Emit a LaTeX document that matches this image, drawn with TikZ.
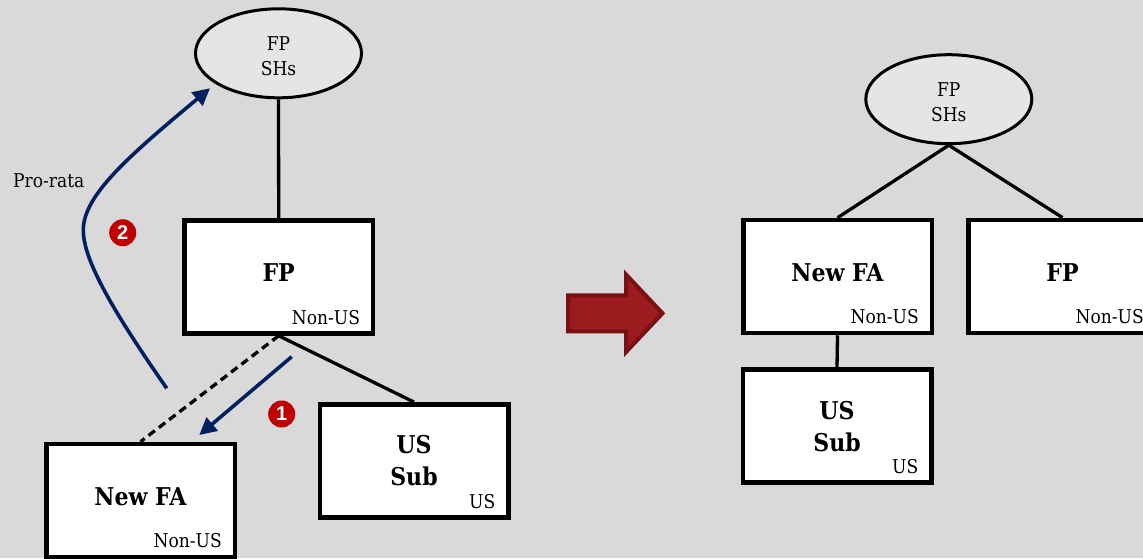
\documentclass[tikz,border=0pt]{standalone}
\usepackage{fontspec}
\setmainfont{DejaVu Serif Condensed}
\newfontfamily\badgefont{Liberation Sans}
\usetikzlibrary{positioning}
\usetikzlibrary{arrows.meta}
\usetikzlibrary{shapes.geometric}
\definecolor{slidegray}{HTML}{D9D9D9}
\definecolor{ovalgray}{HTML}{E5E5E5}
\definecolor{flownavy}{HTML}{002060}
\definecolor{badgered}{HTML}{C00000}
\definecolor{shiftred}{HTML}{9B1B1F}
\definecolor{shiftrim}{HTML}{7A1014}

\begin{document}
\begin{tikzpicture}[x=1pt, y=-1pt,
entitybox/.style={rectangle, draw=black, fill=white, line width=4.5pt, minimum width=188.5pt, minimum height=113pt, align=center, font=\fontsize{24.5}{32}\selectfont\bfseries},
onelinebox/.style={entitybox, text depth=8pt},
holderoval/.style={ellipse, draw=black, fill=ovalgray, line width=3pt, minimum width=166pt, minimum height=89pt, align=center, text height=45pt, font=\fontsize{19}{25}\selectfont},
residence/.style={anchor=base east, xshift=-15pt, yshift=11.5pt, inner sep=0pt, font=\fontsize{19}{22}\selectfont},
stepbadge/.style={circle, fill=badgered, text=white, minimum size=27pt, inner sep=0pt, font=\badgefont\bfseries\fontsize{20}{20}\selectfont},
ownline/.style={line width=3.3pt},
flowline/.style={draw=flownavy, line width=3.6pt, -{Triangle[length=17pt,width=17pt]}},
]
\useasboundingbox (0,0) rectangle (1143,558);
\clip (0,0) rectangle (1143,558);
\fill[slidegray] (0,0) rectangle (1143,558);

%Nodes (before)
\node[holderoval]  (shL)      at (278.5,53.3)  {FP\\SHs};
\node[onelinebox]  (fpL)      at (278.7,277)   {FP};
\node[onelinebox]  (newfaL)   at (140.5,500.4) {New FA};
\node[entitybox]   (ussubL)   at (414,460.8)   {US\\Sub};
\node[residence]   (fpLres)   at (fpL.south east)    {Non-US};
\node[residence]   (newfaLres) at (newfaL.south east) {Non-US};
\node[residence]   (ussubLres) at (ussubL.south east) {US};
\node[anchor=base west, inner sep=0pt, font=\fontsize{19}{22}\selectfont] (prorata) at (13,187) {Pro-rata};
\node[stepbadge]   (badgeA)   at (281.7,414)   {1};
\node[stepbadge]   (badgeB)   at (122.7,232.7) {2};

%Nodes (after)
\node[holderoval]  (shR)      at (948.8,99.2)  {FP\\SHs};
\node[onelinebox]  (newfaR)   at (837.5,276.5) {New FA};
\node[onelinebox]  (fpR)      at (1062.5,276.3) {FP};
\node[entitybox]   (ussubR)   at (837,426.2)   {US\\Sub};
\node[residence]   (newfaRres) at (newfaR.south east) {Non-US};
\node[residence]   (fpRres)   at (fpR.south east)    {Non-US};
\node[residence]   (ussubRres) at (ussubR.south east) {US};

%Lines
\draw[ownline] (shL.south) -- (fpL.north);
\draw[ownline] (fpL.south) -- (ussubL.north);
\draw[ownline, dash pattern=on 8pt off 5pt] (fpL.south) -- (newfaL.north);
\draw[ownline] (shR.south) -- (newfaR.north);
\draw[ownline] (shR.south) -- (fpR.north);
\draw[ownline] (newfaR.south) -- (ussubR.north);

%Flows
\coordinate (oneStart) at (291.7,356.7);
\coordinate (oneEnd)   at (199.3,435);
\draw[flowline] (oneStart) -- (oneEnd);
\coordinate (twoStart) at (166.7,388.3);
\coordinate (twoBend)  at (83.3,230);
\coordinate (twoEnd)   at (210,88.3);
\draw[flowline] (twoStart) .. controls (108,304) and (83.3,258) .. (twoBend) .. controls (83.3,195) and (130,155) .. (twoEnd);

%Shift arrow
\filldraw[fill=shiftred, draw=shiftrim, line width=4pt] (568,295.3) -- (626,295.3) -- (626,274.5) -- (662.5,313.3) -- (626,352) -- (626,331.3) -- (568,331.3) -- cycle;
\end{tikzpicture}
\end{document}
